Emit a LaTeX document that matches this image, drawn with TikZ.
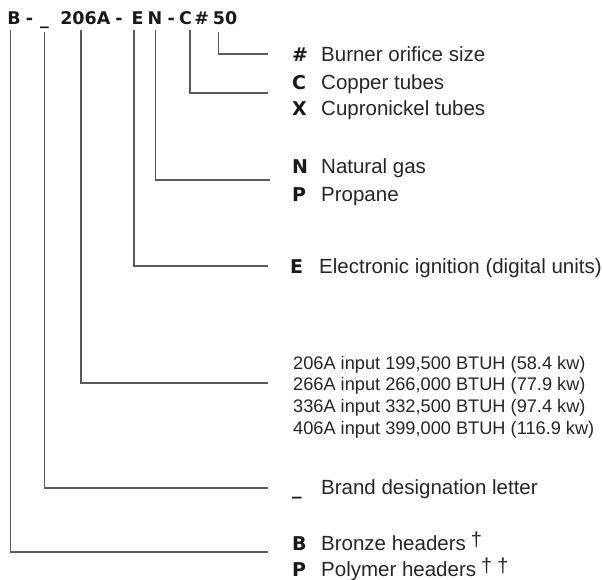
\documentclass[tikz,border=0pt]{standalone}
\usepackage{fontspec}
\setmainfont{Liberation Sans}
\newfontfamily\hdrfont{DejaVu Sans}
\newcommand{\dg}{\raisebox{4pt}{\fontsize{20}{20}\selectfont †}}
\begin{document}
\begin{tikzpicture}[x=1pt,y=-1pt,
  code/.style={font=\fontsize{17.5}{17.5}\hdrfont\bfseries, inner sep=0pt, anchor=base, text=black!90},
  letter/.style={font=\fontsize{19}{19}\hdrfont\bfseries, inner sep=0pt, anchor=base west, text=black!90},
  desc/.style={font=\fontsize{20.5}{20.5}\selectfont, inner sep=0pt, anchor=base west, text=black!85},
  spec/.style={font=\fontsize{18.2}{18.2}\selectfont, inner sep=0pt, anchor=base west, text=black!85},
  conn/.style={draw=black!65, line width=1.1pt}]
\useasboundingbox (0,0) rectangle (603,580);

% header code
\node[code] (hB)   at (14,25)    {B};
\node[code] (hd1)  at (29.5,25)  {-};
\node[code] (hU)   at (44.5,25)  {\_};
\node[code] (hM)   at (85.3,25)  {206A};
\node[code] (hd2)  at (119,25)   {-};
\node[code] (hE)   at (137.7,25) {E};
\node[code] (hN)   at (155,25)   {N};
\node[code] (hd3)  at (171.2,25) {-};
\node[code] (hC)   at (185.5,25) {C};
\node[code] (hH)   at (201.7,25) {\#};
\node[code] (h50)  at (225,25)   {50};

% labels
\node[letter] (lH) at (292,61.7) {\#};
\node[desc]   (tH) at (321,61.7) {Burner orifice size};
\node[letter] (lC) at (292,89.3) {C};
\node[desc]   (tC) at (321,89.3) {Copper tubes};
\node[letter] (lX) at (292,116)  {X};
\node[desc]   (tX) at (321,116)  {Cupronickel tubes};
\node[letter] (lN) at (292,174)  {N};
\node[desc]   (tN) at (321,174)  {Natural gas};
\node[letter] (lP) at (292,201.7) {P};
\node[desc]   (tP) at (321,201.7) {Propane};
\node[letter] (lE) at (290,274)  {E};
\node[desc]   (tE) at (319,274)  {Electronic ignition (digital units)};
\node[spec]   (m1) at (293,369.3) {206A input 199,500 BTUH (58.4 kw)};
\node[spec]   (m2) at (293,391)   {266A input 266,000 BTUH (77.9 kw)};
\node[spec]   (m3) at (293,412.3) {336A input 332,500 BTUH (97.4 kw)};
\node[spec]   (m4) at (293,434)   {406A input 399,000 BTUH (116.9 kw)};
\node[letter] (lU) at (292,494)  {\_};
\node[desc]   (tU) at (321,494)  {Brand designation letter};
\node[letter] (lB) at (292,550.7) {B};
\node[desc]   (tB) at (321,550.7) {Bronze headers\hspace{5pt}\dg};
\node[letter] (lP2) at (292,576.7) {P};
\node[desc]   (tP2) at (321,576.7) {Polymer headers\hspace{5pt}\dg\hspace{5pt}\dg};

% connector start and end points
\coordinate (sH) at (218.5,31.7);  \coordinate (eH) at (268,54);
\coordinate (sC) at (190,30);      \coordinate (eC) at (268,93);
\coordinate (sN) at (155.5,30);    \coordinate (eN) at (270,180);
\coordinate (sE) at (134,30);      \coordinate (eE) at (268,266);
\coordinate (sM) at (81,30);       \coordinate (eM) at (268,383);
\coordinate (sU) at (44.3,31.7);   \coordinate (eU) at (268,488);
\coordinate (sB) at (10.7,30);     \coordinate (eB) at (268,552);

\draw[conn] (sH) |- (eH);
\draw[conn] (sC) |- (eC);
\draw[conn] (sN) |- (eN);
\draw[conn] (sE) |- (eE);
\draw[conn] (sM) |- (eM);
\draw[conn] (sU) |- (eU);
\draw[conn] (sB) |- (eB);
\end{tikzpicture}
\end{document}
